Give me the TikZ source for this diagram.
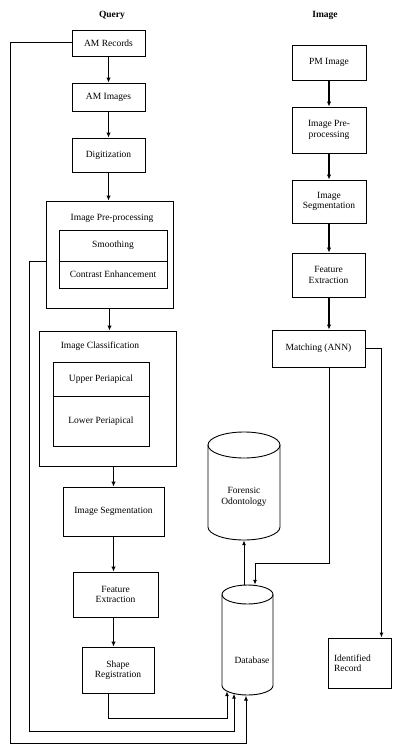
\documentclass[tikz,border=0pt]{standalone}
\usepackage{fontspec}
\setmainfont{Liberation Serif}
\usetikzlibrary{arrows.meta,calc}
\begin{document}
\begin{tikzpicture}[x=1pt,y=-1pt,
  font=\fontsize{9.5}{10.5}\selectfont,
  box/.style={draw, line width=0.9pt, inner sep=1pt, align=center},
  ttl/.style={inner sep=0pt, font=\fontsize{9.5}{10.5}\selectfont\bfseries},
  arr/.style={line width=1.6pt, -{Latex[length=5pt,width=4.5pt]}},
  fb/.style={line width=1pt, -{Latex[length=5pt,width=4pt]}},
  cylarea/.style={inner sep=0pt},
  cylline/.style={line width=0.9pt},
]
\useasboundingbox (0,0) rectangle (392,746);
\fill[white] (0,0) rectangle (392,746);

% titles
\node[ttl] (q) at (112,15) {Query};
\node[ttl] (im) at (325,15) {Image};

% left column
\node[box, minimum width=73pt, minimum height=26pt] (amrec) at (108.5,43) {AM Records};
\node[box, minimum width=73pt, minimum height=28pt] (amimg) at (108.5,97) {AM Images};
\node[box, minimum width=73pt, minimum height=34pt] (digit) at (108.5,155) {Digitization};

\node[box, minimum width=127pt, minimum height=107pt] (prep) at (109.5,254.5) {};
\node[inner sep=0pt] (prept) at (112,218) {Image Pre-processing};
\node[box, minimum width=108pt, minimum height=31pt] (smo) at (113,245.5) {Smoothing};
\node[box, minimum width=108pt, minimum height=27pt] (cnt) at (113,274.5) {Contrast Enhancement};

\node[box, minimum width=137pt, minimum height=135pt] (cls) at (107.5,398.5) {};
\node[inner sep=0pt] (clst) at (100,346) {Image Classification};
\node[box, minimum width=96pt, minimum height=34pt] (upp) at (101,379) {Upper Periapical};
\node[box, minimum width=96pt, minimum height=50pt] (low) at (101,421) {Lower Periapical};

\node[box, minimum width=101pt, minimum height=49pt] (seg) at (113.5,511.5) {Image Segmentation};
\node[box, minimum width=85pt, minimum height=45pt] (feat) at (115.5,594.5) {Feature\\Extraction};
\node[box, minimum width=72pt, minimum height=46pt] (shp) at (118,670) {Shape\\Registration};

% right column
\node[box, minimum width=74pt, minimum height=35pt] (pm) at (329,62.5) {PM Image};
\node[box, minimum width=74pt, minimum height=46pt] (rprep) at (329,130) {Image Pre-\\processing};
\node[box, minimum width=74pt, minimum height=43pt] (rseg) at (329,201.5) {Image\\Segmentation};
\node[box, minimum width=73pt, minimum height=44pt] (rfeat) at (328.5,275) {Feature\\Extraction};
\node[box, minimum width=93pt, minimum height=37pt] (match) at (318.5,348.5) {Matching (ANN)};
\node[box, minimum width=63pt, minimum height=50pt, align=left, text width=51pt, inner sep=6pt] (idrec) at (359.5,663) {Identified\\Record};

% database cylinder (x 222-273, y 585-695)
\node[cylarea, minimum width=51pt, minimum height=110pt] (db) at (247.5,640) {};
\draw[cylline] (247.5,594.5) ellipse[x radius=25.5pt, y radius=9.5pt];
\draw[cylline] (222,594.5) -- (222,685.5) arc[start angle=180, end angle=360, x radius=25.5pt, y radius=9.5pt] -- (273,594.5);
\node[inner sep=0pt] (dbt) at (252,660) {Database};

% forensic odontology cylinder (x 208-280, y 432-540)
\node[cylarea, minimum width=72pt, minimum height=108pt] (fo) at (244,486) {};
\draw[cylline] (244,445) ellipse[x radius=36pt, y radius=13pt];
\draw[cylline] (208,445) -- (208,527) arc[start angle=180, end angle=360, x radius=36pt, y radius=13pt] -- (280,445);
\node[inner sep=0pt, align=center] (fot) at (244,497) {Forensic\\Odontology};

% left arrows
\draw[arr] (amrec.south) -- (amrec.south |- amimg.north);
\draw[arr] (amimg.south) -- (amimg.south |- digit.north);
\draw[arr] (digit.south) -- (digit.south |- prep.north);
\draw[arr] (prep.south) -- (prep.south |- cls.north);
\draw[arr] (cls.south -| seg.north) -- (seg.north);
\draw[arr] (seg.south) -- (seg.south |- feat.north);
\draw[arr] (seg.south |- feat.south) -- (seg.south |- shp.north);

% right arrows
\draw[arr] (pm.south) -- (rprep.north);
\draw[arr] (rprep.south) -- (rseg.north);
\draw[arr] (rseg.south) -- (rseg.south |- rfeat.north);
\draw[arr] (rseg.south |- rfeat.south) -- (rseg.south |- match.north);
\draw[fb, line width=1.5pt] (match.east) -| ($(idrec.north east)+(-10,0)$);

% match to database
\coordinate (mj) at (255,563);
\draw[fb] (match.south -| pm.south) |- (mj) -- (mj |- db.north);
\draw[fb] (db.north -| fo.south) -- (fo.south);

% feedback lines into database
\coordinate (k1) at (10,743);
\coordinate (k2) at (29,731);
\coordinate (k3) at (108,718);
\coordinate (d1) at (246,695.5);
\coordinate (d2) at (234,693.6);
\coordinate (d3) at (227,691.2);
\draw[fb] (amrec.west) -| (k1) -| (d1);
\draw[fb] (prep.west |- smo.south) -| (k2) -| (d2);
\draw[fb] ($(shp.south)+(-10,0)$) |- (k3) -| (d3);
\end{tikzpicture}
\end{document}
